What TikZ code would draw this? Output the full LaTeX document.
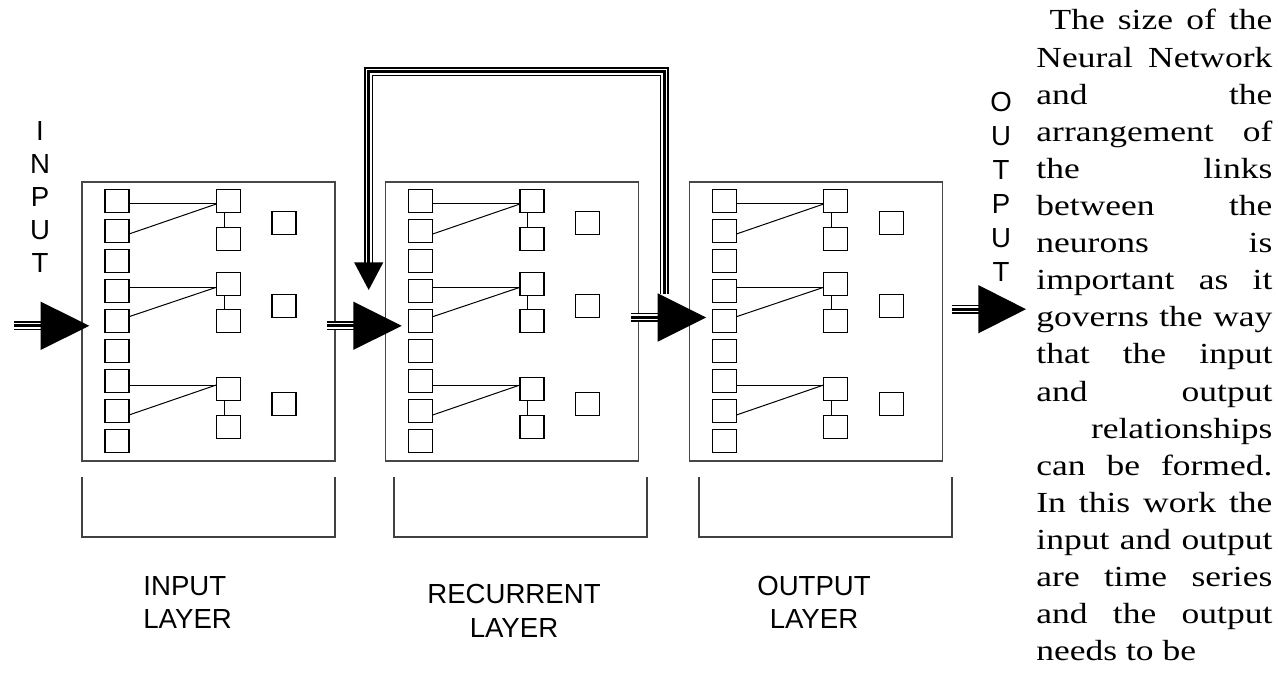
\documentclass[tikz,border=0pt]{standalone}
\usepackage{fontspec}
\usepackage{graphicx}
\setmainfont{Liberation Serif}
\newfontfamily\labelsans{Liberation Sans}
\newfontfamily\bodyserif{Liberation Serif}
\usetikzlibrary{calc}

\tikzset{
  layerbox/.style={draw=black!72, line width=0.65pt, minimum width=126.5pt,
    minimum height=139.5pt, inner sep=0pt, outer sep=0pt},
  unit/.style={draw=black, line width=0.55pt, minimum width=12pt,
    minimum height=11.5pt, inner sep=0pt, outer sep=0pt},
  link/.style={draw=black, line width=0.5pt},
  bracketline/.style={draw=black!75, line width=0.6pt},
  trunk/.style={draw=black, line width=4.5pt,
    postaction={draw=white, line width=3pt},
    postaction={draw=black, line width=1.5pt}},
  headfill/.style={fill=black},
  vlabel/.style={font=\labelsans\fontsize{13.8pt}{16.5pt}\selectfont, inner sep=0pt},
  layerlabel/.style={font=\labelsans\fontsize{13.8pt}{16.5pt}\selectfont, inner sep=0pt},
  bodytext/.style={font=\bodyserif\fontsize{17.75pt}{18.5pt}\selectfont, inner sep=0pt}
}

% one justified line of the side paragraph
\newcommand{\paraline}[3]{%
  \node[bodytext, anchor=base west] (txt#1) at (1036, {30+37.1*(#1-1)})
    {\scalebox{1}[0.82]{\makebox[118pt][#2]{#3}}};}

\begin{document}
\begin{tikzpicture}[x=0.5pt, y=-0.5pt]
\useasboundingbox (0,0) rectangle (1278,673);

% ---- the three layers ----
\foreach \i/\L in {1/82, 2/385.7, 3/689.4} {
  \node[layerbox] (box\i) at (\L+126.5, 321.5) {};
  % first column of units
  \foreach \k in {1,...,9}
    \node[unit] (b\i-a\k) at (\L+35, {200.8+30*(\k-1)}) {};
  % paired units of the middle column
  \node[unit] (b\i-h1) at (\L+146.3, 200.7) {};
  \node[unit] (b\i-l1) at (\L+146.3, 238.7) {};
  \node[unit] (b\i-h2) at (\L+146.3, 283.7) {};
  \node[unit] (b\i-l2) at (\L+146.3, 321.3) {};
  \node[unit] (b\i-h3) at (\L+146.3, 389.0) {};
  \node[unit] (b\i-l3) at (\L+146.3, 426.7) {};
  % single units of the right column
  \node[unit] (b\i-r1) at (\L+202, 223.3) {};
  \node[unit] (b\i-r2) at (\L+202, 306.0) {};
  \node[unit] (b\i-r3) at (\L+202, 404.0) {};
  % links
  \draw[link] (b\i-a1.east |- 0,204)   -- (b\i-h1.west |- 0,204);
  \draw[link] (b\i-a2.east |- 0,234)   -- (b\i-h1.west |- 0,204);
  \draw[link] (b\i-a4.east |- 0,287.3) -- (b\i-h2.west |- 0,287.3);
  \draw[link] (b\i-a5.east |- 0,316.7) -- (b\i-h2.west |- 0,287.3);
  \draw[link] (b\i-a7.east |- 0,385)   -- (b\i-h3.west |- 0,385);
  \draw[link] (b\i-a8.east |- 0,415)   -- (b\i-h3.west |- 0,385);
  \foreach \g in {1,2,3}
    \draw[link] ($(b\i-h\g.south)+(-4.3,0)$) -- ($(b\i-l\g.north)+(-4.3,0)$);
}

% ---- brackets under the layers ----
\foreach \x in {82, 394, 699}
  \draw[bracketline] (\x,477) -- (\x,537) -- (\x+253,537) -- (\x+253,477);

% ---- layer names ----
\node[layerlabel, anchor=base west] (lin1) at (143,595) {INPUT};
\node[layerlabel, anchor=base west] (lin2) at (143,628) {LAYER};
\node[layerlabel, anchor=base] (lrec1) at (514,603) {RECURRENT};
\node[layerlabel, anchor=base] (lrec2) at (514,637) {LAYER};
\node[layerlabel, anchor=base] (lout1) at (814,595) {OUTPUT};
\node[layerlabel, anchor=base] (lout2) at (814,628) {LAYER};

% ---- vertical words ----
\foreach \ch [count=\k] in {I,N,P,U,T}
  \node[vlabel] (vin\k) at (40, {131+33*(\k-1)}) {\ch};
\foreach \ch [count=\k] in {O,U,T,P,U,T}
  \node[vlabel] (vout\k) at (1001, {102.5+34*(\k-1)}) {\ch};

% ---- flow arrows ----
\coordinate (in-s)  at (14,325.8);    \coordinate (in-b)  at (40.7,325.8);
\coordinate (a12-s) at (327,325.8);   \coordinate (a12-b) at (353.3,325.8);
\coordinate (a23-s) at (631,317.5);   \coordinate (a23-b) at (657.7,317.5);
\coordinate (out-s) at (951.7,309.2); \coordinate (out-b) at (978.3,309.2);

\draw[trunk] (in-s)  -- ($(in-b)+(1,0)$);
\draw[trunk] (a12-s) -- ($(a12-b)+(1,0)$);
\draw[trunk] (a23-s) -- ($(a23-b)+(1,0)$);
\draw[trunk] (out-s) -- ($(out-b)+(1,0)$);

% recurrent feedback loop
\coordinate (fb-s)   at (664,294);
\coordinate (fb-top) at (0,72);
\coordinate (fb-e)   at (368.7,263);
\draw[trunk] (fb-s) -- (fb-s |- fb-top) -- (fb-e |- fb-top) -- (fb-e);

% arrowheads
\fill[headfill] (in-b)  ++(0,-24.15) -- ++(48.6,24.15) -- ++(-48.6,24.15) -- cycle;
\fill[headfill] (a12-b) ++(0,-24.15) -- ++(48.4,24.15) -- ++(-48.4,24.15) -- cycle;
\fill[headfill] (a23-b) ++(0,-24.2)  -- ++(48.3,24.2)  -- ++(-48.3,24.2)  -- cycle;
\fill[headfill] (out-b) ++(0,-24.15) -- ++(47.7,24.15) -- ++(-47.7,24.15) -- cycle;
\fill[headfill] ($(fb-e)+(0,-0.7)$) ++(-14.65,0) -- ++(29.3,0) -- ++(-14.65,27.7) -- cycle;

% ---- side paragraph ----
\paraline{1}{s}{\ The size of the}
\paraline{2}{s}{Neural Network}
\paraline{3}{s}{and the}
\paraline{4}{s}{arrangement of}
\paraline{5}{s}{the links}
\paraline{6}{s}{between the}
\paraline{7}{s}{neurons is}
\paraline{8}{s}{important as it}
\paraline{9}{s}{governs the way}
\paraline{10}{s}{that the input}
\paraline{11}{s}{and output}
\paraline{12}{r}{relationships}
\paraline{13}{s}{can be formed.}
\paraline{14}{s}{In this work the}
\paraline{15}{s}{input and output}
\paraline{16}{s}{are time series}
\paraline{17}{s}{and the output}
\paraline{18}{l}{needs to be}
\end{tikzpicture}
\end{document}
